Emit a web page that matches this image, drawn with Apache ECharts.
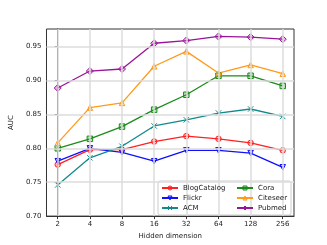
<!DOCTYPE html>
<html><head><meta charset="utf-8">
<script src="https://cdn.jsdelivr.net/npm/echarts@6/dist/echarts.min.js"></script>
<style>html,body{margin:0;padding:0;background:#fff}#c{width:327px;height:245px}</style>
</head><body><div id="c"></div>
<script>
const categories = ['2','4','8','16','32','64','128','256'];
const yTicks = [0.70,0.75,0.80,0.85,0.90,0.95];
const blogCatalog = [0.776,0.798,0.798,0.810,0.818,0.814,0.808,0.797];
const flickr      = [0.781,0.800,0.794,0.781,0.797,0.797,0.793,0.772];
const acm         = [0.746,0.786,0.803,0.833,0.842,0.852,0.858,0.847];
const cora        = [0.800,0.814,0.832,0.857,0.879,0.907,0.907,0.892];
const citeseer    = [0.808,0.860,0.867,0.921,0.943,0.911,0.923,0.910];
const pubmed      = [0.889,0.914,0.917,0.955,0.959,0.965,0.964,0.961];

const defs = [
  {name:'BlogCatalog', data:blogCatalog, color:'#ff2020', fill:'rgba(255,32,32,0.3)', symbol:'circle', rot:0},
  {name:'Flickr', data:flickr, color:'#1010ff', fill:'rgba(16,16,255,0.3)', symbol:'triangle', rot:180},
  {name:'ACM', data:acm, color:'#128a8a', fill:'rgba(18,138,138,0.3)', symbol:'path://M0,0L10,10M10,0L0,10', rot:0},
  {name:'Cora', data:cora, color:'#1a8c1a', fill:'rgba(26,140,26,0.3)', symbol:'rect', rot:0},
  {name:'Citeseer', data:citeseer, color:'#ff9a1a', fill:'rgba(255,154,26,0.3)', symbol:'triangle', rot:0},
  {name:'Pubmed', data:pubmed, color:'#9a149a', fill:'rgba(154,20,154,0.3)', symbol:'diamond', rot:0}
];

const series = defs.map(d => ({
  name: d.name, type:'line',
  data: d.data.map((v,i)=>[i,v]),
  symbol: d.symbol, symbolSize: d.symbol==='diamond'?7:5.5, symbolRotate: d.rot,
  showAllSymbol:true,
  lineStyle:{color:d.color, width:1.3},
  itemStyle:{color:d.fill, borderColor:d.color, borderWidth:1},
  emphasis:{disabled:true},
  z:3,
  animation:false
}));

const gridStyle = {color:'#dcdcdc', width:1.5, type:'solid'};
series.push({
  type:'line', data:[], silent:true, z:1,
  markLine:{
    silent:true, symbol:'none', animation:false,
    label:{show:false}, lineStyle:gridStyle,
    data: categories.map((c,i)=>({xAxis:i})).concat(yTicks.slice(1).map(v=>({yAxis:v})))
  }
});

const font = 'DejaVu Sans';
const legendCommon = {
  orient:'vertical', itemWidth:16, itemHeight:5, itemGap:2, padding:0,
  textStyle:{fontFamily:font, fontSize:7, color:'#222', lineHeight:8},
  selectedMode:false
};
const legendItem = d => ({name:d.name, itemStyle:{color:d.fill, borderColor:d.color, borderWidth:1}});

const chart = echarts.init(document.getElementById('c'));
chart.setOption({
  animation:false,
  grid:{left:41, right:33, top:29, bottom:27, show:true, borderColor:'#333', borderWidth:1, containLabel:false},
  xAxis:{
    type:'value', min:-0.35, max:7.35,
    name:'Hidden dimension', nameLocation:'middle', nameGap:15,
    nameTextStyle:{fontFamily:font, fontSize:7, color:'#222'},
    axisLine:{show:true, lineStyle:{color:'#333', width:1}},
    axisTick:{show:true, inside:false, length:3, customValues:[0,1,2,3,4,5,6,7], lineStyle:{color:'#333'}},
    axisLabel:{customValues:[0,1,2,3,4,5,6,7], formatter:v=>categories[Math.round(v)], fontFamily:font, fontSize:7, color:'#222', margin:5},
    splitLine:{show:false}
  },
  yAxis:{
    type:'value', min:0.70, max:0.976,
    name:'AUC', nameLocation:'middle', nameGap:23, nameRotate:90,
    nameTextStyle:{fontFamily:font, fontSize:7, color:'#222'},
    axisLine:{show:true, lineStyle:{color:'#333', width:1}},
    axisTick:{show:true, inside:false, length:3, customValues:yTicks, lineStyle:{color:'#333'}},
    axisLabel:{customValues:yTicks, formatter:v=>v.toFixed(2), fontFamily:font, fontSize:7, color:'#222', margin:5},
    splitLine:{show:false}
  },
  graphic:[{type:'rect', shape:{x:158, y:181, width:133, height:34, r:2}, style:{fill:'rgba(255,255,255,0.85)', stroke:'#cccccc', lineWidth:1}, z:5}],
  legend:[
    Object.assign({}, legendCommon, {left:161, top:184, data:defs.slice(0,3).map(legendItem), z:10}),
    Object.assign({}, legendCommon, {left:236, top:184, data:defs.slice(3).map(legendItem), z:10})
  ],
  series: series
});
</script></body></html>
